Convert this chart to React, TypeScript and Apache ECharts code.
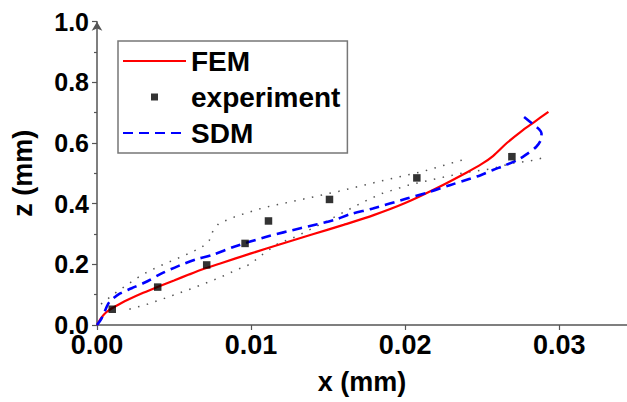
import React, { useEffect, useRef } from "react";
import * as echarts from "echarts";

const FONT = "'Liberation Sans', Arial, Helvetica, sans-serif";

const xTicks = ["0.00", "0.01", "0.02", "0.03"];
const zTicks = ["0.0", "0.2", "0.4", "0.6", "0.8", "1.0"];

const femX = [0, 0.0003, 0.0006, 0.001, 0.0015, 0.002, 0.003, 0.004, 0.005, 0.006, 0.007, 0.008, 0.01, 0.012, 0.014, 0.016, 0.018, 0.02, 0.022, 0.024, 0.025, 0.0257, 0.0266, 0.0275, 0.0284, 0.0293];
const femZ = [0, 0.025, 0.042, 0.056, 0.07, 0.083, 0.106, 0.127, 0.147, 0.167, 0.186, 0.203, 0.236, 0.268, 0.299, 0.33, 0.363, 0.402, 0.45, 0.503, 0.532, 0.557, 0.6, 0.637, 0.67, 0.703];

const sdmX = [0, 0.0003, 0.00074, 0.00106, 0.0015, 0.00225, 0.0031, 0.0042, 0.0053, 0.0064, 0.0075, 0.0089, 0.011, 0.0132, 0.0154, 0.0164, 0.0179, 0.0201, 0.0216, 0.0229, 0.0242, 0.0249, 0.0257, 0.0264, 0.0273, 0.0278, 0.0285, 0.02882, 0.02885, 0.0287, 0.0283, 0.0277];
const sdmZ = [0, 0.022, 0.071, 0.088, 0.104, 0.121, 0.14, 0.17, 0.195, 0.216, 0.231, 0.258, 0.291, 0.319, 0.346, 0.365, 0.384, 0.417, 0.439, 0.461, 0.482, 0.494, 0.511, 0.525, 0.544, 0.56, 0.587, 0.612, 0.632, 0.645, 0.662, 0.687];

const expX = [0.00099, 0.00394, 0.00712, 0.00961, 0.01113, 0.01509, 0.02076, 0.02693];
const expZ = [0.052, 0.125, 0.198, 0.269, 0.343, 0.414, 0.485, 0.555];

const upperX = [0.00026, 0.0013, 0.0029, 0.004, 0.0057, 0.0068, 0.0073, 0.0075, 0.0079, 0.0091, 0.0109, 0.0133, 0.0157, 0.0187, 0.0212, 0.0235, 0.0241];
const upperZ = [0.069, 0.11, 0.165, 0.193, 0.23, 0.256, 0.28, 0.307, 0.335, 0.36, 0.388, 0.414, 0.441, 0.478, 0.507, 0.541, 0.549];

const lowerX = [0.0021, 0.0033, 0.0045, 0.0063, 0.008, 0.0092, 0.0097, 0.0102, 0.0107, 0.0117, 0.0129, 0.0147, 0.0162, 0.0173, 0.0184, 0.0202, 0.0221, 0.0238, 0.0257, 0.0269, 0.0281, 0.0293];
const lowerZ = [0.052, 0.069, 0.09, 0.123, 0.157, 0.185, 0.194, 0.211, 0.231, 0.267, 0.291, 0.337, 0.377, 0.406, 0.432, 0.461, 0.483, 0.502, 0.516, 0.533, 0.541, 0.555];

const zip = (a: number[], b: number[]) => a.map((v, i) => [v, b[i]]);

export default function App() {
  const ref = useRef<HTMLDivElement>(null);
  useEffect(() => {
    if (!ref.current) return;
    const chart = echarts.init(ref.current, null, { renderer: "svg" });
    const axisColor = "#555";
    const dotted = {
      type: "line",
      symbol: "none",
      silent: true,
      lineStyle: { color: "#555", width: 1.5, type: [1.5, 7.5] },
      z: 1,
    };
    chart.setOption({
      animation: false,
      backgroundColor: "#fff",
      grid: { left: 97, right: 0, top: 21.7, bottom: 77 },
      xAxis: {
        type: "value",
        min: 0,
        max: 0.0344,
        interval: 0.01,
        name: "x (mm)",
        nameLocation: "middle",
        nameGap: 43,
        nameTextStyle: { fontSize: 27, fontWeight: "bold", color: "#000", fontFamily: FONT },
        axisLine: { show: true, lineStyle: { color: axisColor, width: 1.5 } },
        axisTick: { show: true, length: 5, lineStyle: { color: axisColor, width: 1.2 } },
        splitLine: { show: false },
        axisLabel: {
          showMaxLabel: false,
          margin: 10,
          fontSize: 27,
          lineHeight: 20,
          fontWeight: "bold",
          color: "#000",
          fontFamily: FONT,
          formatter: (v: number) => xTicks[Math.round(v / 0.01)] ?? "",
        },
      },
      yAxis: {
        type: "value",
        min: 0,
        max: 1,
        interval: 0.2,
        name: "z (mm)",
        nameLocation: "middle",
        nameGap: 61,
        nameTextStyle: { fontSize: 27, fontWeight: "bold", color: "#000", fontFamily: FONT },
        axisLine: {
          show: true,
          symbol: ["none", "arrow"],
          symbolSize: [8, 9],
          lineStyle: { color: axisColor, width: 1.5 },
        },
        axisTick: { show: true, length: 5, lineStyle: { color: axisColor, width: 1.2 } },
        minorTick: { show: true, splitNumber: 2, length: 3, lineStyle: { color: axisColor, width: 1.2 } },
        splitLine: { show: false },
        axisLabel: {
          margin: 8,
          fontSize: 25,
          lineHeight: 18,
          fontWeight: "bold",
          color: "#000",
          fontFamily: FONT,
          formatter: (v: number) => zTicks[Math.round(v / 0.2)] ?? "",
        },
      },
      legend: {
        orient: "vertical",
        left: 118,
        top: 41,
        padding: [6, 7, 6, 4],
        itemWidth: 63,
        itemHeight: 10,
        itemGap: 8,
        itemTextGap: 10,
        borderColor: "#777",
        borderWidth: 1.5,
        backgroundColor: "#fff",
        selectedMode: false,
        textStyle: { fontSize: 28, fontWeight: "bold", color: "#000", fontFamily: FONT },
        data: [
          { name: "FEM", itemStyle: { opacity: 0 } },
          { name: "experiment", icon: "path://M0,0h0.05v0.05h-0.05zM28,1.5h7v7h-7zM62.95,9.95h0.05v0.05h-0.05z" },
          { name: "SDM", itemStyle: { opacity: 0 } },
        ],
      },
      series: [
        { ...dotted, name: "upper", data: zip(upperX, upperZ) },
        { ...dotted, name: "lower", data: zip(lowerX, lowerZ) },
        {
          type: "line",
          name: "FEM",
          symbol: "none",
          smooth: 0.3,
          data: zip(femX, femZ),
          lineStyle: { color: "#ff0000", width: 2.2 },
          itemStyle: { color: "#ff0000" },
          z: 3,
        },
        {
          type: "scatter",
          name: "experiment",
          symbol: "rect",
          symbolSize: 7.5,
          data: zip(expX, expZ),
          itemStyle: { color: "#000" },
          z: 5,
        },
        {
          type: "line",
          name: "SDM",
          symbol: "none",
          smooth: 0.3,
          data: zip(sdmX, sdmZ),
          lineStyle: { color: "#0000ff", width: 2.6, type: [10, 6] },
          itemStyle: { color: "#0000ff" },
          z: 4,
        },
      ],
    });
    return () => chart.dispose();
  }, []);
  return (
    <div
      ref={ref}
      style={{ position: "fixed", left: 0, top: 0, width: 627, height: 402 }}
    />
  );
}
